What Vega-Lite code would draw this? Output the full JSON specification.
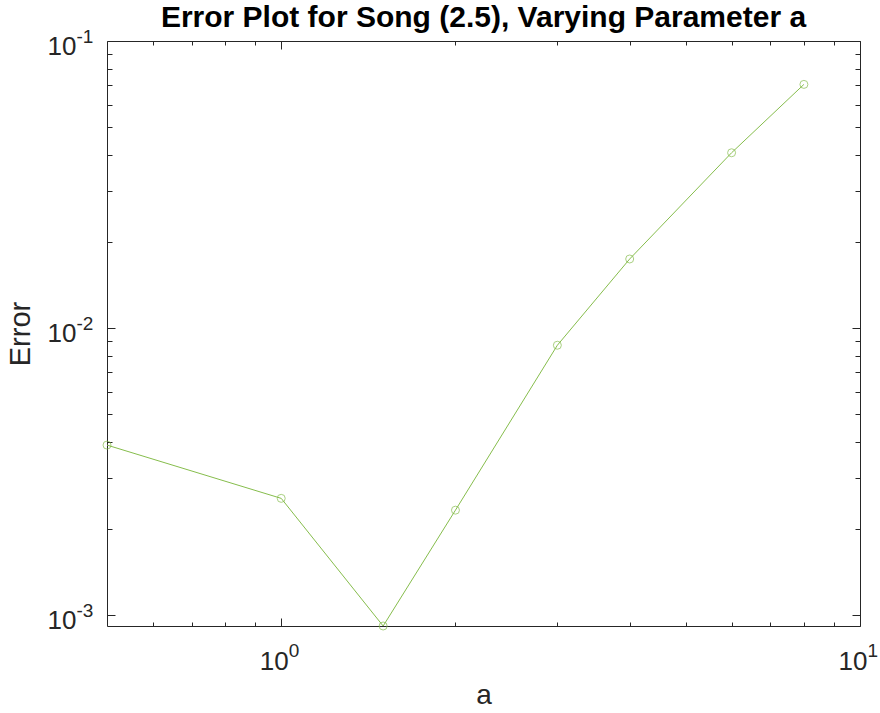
{
  "$schema": "https://vega.github.io/schema/vega-lite/v6.json",
  "width": 753,
  "height": 585,
  "autosize": {"type": "none"},
  "padding": {"left": 107, "top": 41, "right": 20, "bottom": 87},
  "background": "white",
  "config": {
    "view": {"stroke": "#262626", "strokeWidth": 1},
    "font": "Liberation Sans",
    "axis": {"grid": false, "domain": false, "labelFont": "Liberation Sans", "labelColor": "#262626", "tickColor": "#262626", "titleFont": "Liberation Sans", "titleColor": "#262626", "titleFontWeight": "normal"}
  },
  "title": {"text": "Error Plot for Song (2.5), Varying Parameter a", "fontSize": 30, "fontWeight": "bold", "font": "Liberation Sans", "color": "#000000", "anchor": "middle", "frame": "group", "baseline": "alphabetic", "offset": 11, "dy": 41},
  "data": {"values": [
    {"a": 0.5, "err": 0.00391},
    {"a": 1, "err": 0.00255},
    {"a": 1.5, "err": 0.000916},
    {"a": 2, "err": 0.00232},
    {"a": 3, "err": 0.00871},
    {"a": 4, "err": 0.0174},
    {"a": 6, "err": 0.0408},
    {"a": 8, "err": 0.0706}
  ]},
  "resolve": {"axis": {"x": "independent", "y": "independent"}},
  "layer": [
    {
      "mark": {"type": "line", "color": "#86bd4c", "strokeWidth": 1, "clip": false},
      "encoding": {
        "x": {"field": "a", "type": "quantitative", "scale": {"type": "log", "domain": [0.5, 10], "nice": false},
              "axis": {"orient": "bottom", "values": [1, 10], "ticks": false, "labelExpr": "'10'", "labelFontSize": 26, "labelAlign": "right", "labelOffset": 7, "labelPadding": 22, "labelFlush": false, "title": "a", "titleFontSize": 28, "titlePadding": 7}},
        "y": {"field": "err", "type": "quantitative", "scale": {"type": "log", "domain": [0.000916, 0.1], "nice": false},
              "axis": {"orient": "left", "values": [0.001, 0.01, 0.1], "ticks": false, "labelExpr": "'10'", "labelFontSize": 26, "labelAlign": "right", "labelPadding": 31, "labelOffset": 5, "labelFlush": false, "title": "Error", "titleFontSize": 29, "titlePadding": 12}}
      }
    },
    {
      "mark": {"type": "point", "opacity": 0},
      "encoding": {
        "x": {"field": "a", "type": "quantitative", "scale": {"type": "log", "domain": [0.5, 10], "nice": false},
              "axis": {"orient": "bottom", "values": [1, 10], "ticks": false, "labelExpr": "datum.value < 5 ? '0' : '1'", "labelFontSize": 19, "labelAlign": "left", "labelOffset": 7, "labelPadding": 15, "labelFlush": false, "title": null}},
        "y": {"field": "err", "type": "quantitative", "scale": {"type": "log", "domain": [0.000916, 0.1], "nice": false},
              "axis": {"orient": "left", "values": [0.001, 0.01, 0.1], "ticks": false, "labelExpr": "datum.value < 0.005 ? '-3' : datum.value < 0.05 ? '-2' : '-1'", "labelFontSize": 19, "labelAlign": "left", "labelPadding": 31, "labelOffset": -5, "labelFlush": false, "title": null}}
      }
    },
    {
      "mark": {"type": "point", "shape": "circle", "filled": false, "color": "#86bd4c", "strokeWidth": 1, "size": 64, "clip": false},
      "encoding": {
        "x": {"field": "a", "type": "quantitative", "scale": {"type": "log", "domain": [0.5, 10], "nice": false},
              "axis": {"orient": "bottom", "values": [1, 10], "tickSize": -8, "labels": false, "title": null}},
        "y": {"field": "err", "type": "quantitative", "scale": {"type": "log", "domain": [0.000916, 0.1], "nice": false},
              "axis": {"orient": "left", "values": [0.001, 0.01, 0.1], "tickSize": -8, "labels": false, "title": null}}
      }
    },
    {
      "mark": {"type": "point", "opacity": 0},
      "encoding": {
        "x": {"field": "a", "type": "quantitative", "scale": {"type": "log", "domain": [0.5, 10], "nice": false},
              "axis": {"orient": "bottom", "values": [0.6, 0.7, 0.8, 0.9, 2, 3, 4, 5, 6, 7, 8, 9], "tickSize": -4, "labels": false, "title": null}},
        "y": {"field": "err", "type": "quantitative", "scale": {"type": "log", "domain": [0.000916, 0.1], "nice": false},
              "axis": {"orient": "left", "values": [0.002, 0.003, 0.004, 0.005, 0.006, 0.007, 0.008, 0.009, 0.02, 0.03, 0.04, 0.05, 0.06, 0.07, 0.08, 0.09], "tickSize": -5, "labels": false, "title": null}}
      }
    },
    {
      "mark": {"type": "point", "opacity": 0},
      "encoding": {
        "x": {"field": "a", "type": "quantitative", "scale": {"type": "log", "domain": [0.5, 10], "nice": false},
              "axis": {"orient": "top", "values": [1, 10], "tickSize": -8, "labels": false, "title": null}},
        "y": {"field": "err", "type": "quantitative", "scale": {"type": "log", "domain": [0.000916, 0.1], "nice": false},
              "axis": {"orient": "right", "values": [0.001, 0.01, 0.1], "tickSize": -8, "labels": false, "title": null}}
      }
    },
    {
      "mark": {"type": "point", "opacity": 0},
      "encoding": {
        "x": {"field": "a", "type": "quantitative", "scale": {"type": "log", "domain": [0.5, 10], "nice": false},
              "axis": {"orient": "top", "values": [0.6, 0.7, 0.8, 0.9, 2, 3, 4, 5, 6, 7, 8, 9], "tickSize": -4, "labels": false, "title": null}},
        "y": {"field": "err", "type": "quantitative", "scale": {"type": "log", "domain": [0.000916, 0.1], "nice": false},
              "axis": {"orient": "right", "values": [0.002, 0.003, 0.004, 0.005, 0.006, 0.007, 0.008, 0.009, 0.02, 0.03, 0.04, 0.05, 0.06, 0.07, 0.08, 0.09], "tickSize": -5, "labels": false, "title": null}}
      }
    }
  ]
}
